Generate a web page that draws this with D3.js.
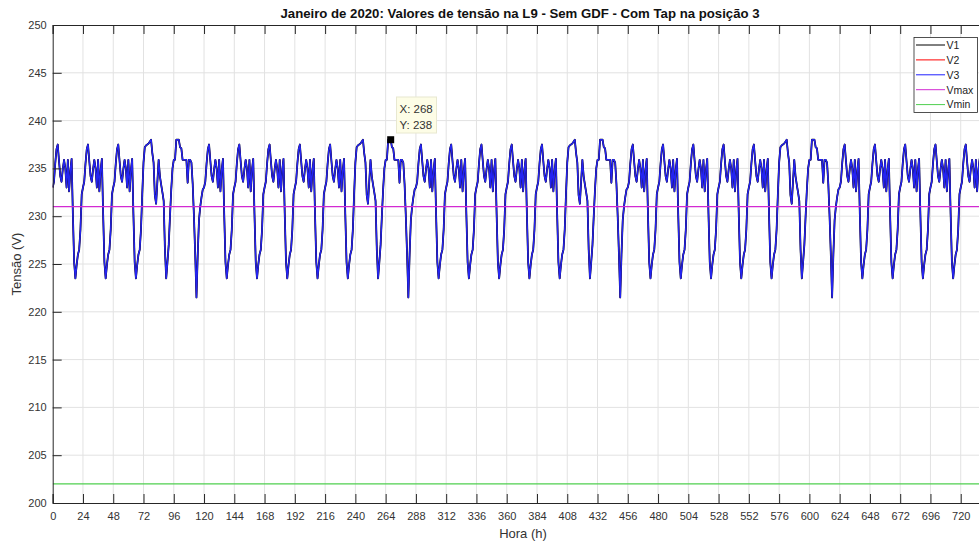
<!DOCTYPE html>
<html>
<head>
<meta charset="utf-8">
<script src="https://cdn.jsdelivr.net/npm/d3@7"></script>
<style>
  html, body { margin: 0; padding: 0; background: #fff; }
  svg { display: block; font-family: "Liberation Sans", Arial, Helvetica, sans-serif; }
</style>
</head>
<body>
<div id="chart"></div>
<script>
// ---------------- DATA ----------------
const titleText = "Janeiro de 2020: Valores de tensão na L9 - Sem GDF - Com Tap na posição 3";
const xLabel = "Hora (h)";
const yLabel = "Tensão (V)";
const xTicks = [0,24,48,72,96,120,144,168,192,216,240,264,288,312,336,360,384,408,432,456,480,504,528,552,576,600,624,648,672,696,720];
const yTicks = [200,205,210,215,220,225,230,235,240,245,250];
const seriesNames = ["V1","V2","V3","Vmax","Vmin"];

// hourly voltage profiles (hour 0..23)
const weekdayProfile  = [233.0,233.6,235.5,237.0,237.5,235.8,234.2,233.6,234.9,235.9,235.0,233.0,235.9,232.6,234.8,236.0,230.2,225.2,223.5,224.9,226.0,226.5,228.6,232.3];
const saturdayProfile = [235.6,237.2,237.4,237.5,237.6,237.8,238.0,236.6,235.6,232.2,231.3,233.6,235.9,234.2,233.3,232.5,231.6,226.5,223.5,225.2,227.0,230.0,232.8,235.0];
const sundayProfile   = [235.9,235.9,238.0,238.0,238.0,237.2,237.1,235.9,235.9,235.9,235.9,233.5,235.9,235.9,235.6,233.4,230.0,226.0,221.5,226.0,229.6,231.0,232.0,232.8];
// day types for January 2020 (W = weekday, S = Saturday, D = Sunday)
const dayTypes = ["W","W","W","S","D","W","W","W","W","W","S","D","W","W","W","W","W","S","D","W","W","W","W","W","S","D","W","W","W","W","W"];
const vmaxValue = [231];
const vminValue = [202];
const datatip = {x: 268, y: 238};

// ---------------- BUILD ----------------
const profiles = {W: weekdayProfile, S: saturdayProfile, D: sundayProfile};
const phaseData = [];
dayTypes.forEach((t, d) => profiles[t].forEach((v, h) => phaseData.push({x: d * 24 + h, y: v})));

const W = 979, H = 542;
const M = {left: 52.7, top: 25, right: 991, bottom: 503};
const svg = d3.select("#chart").append("svg").attr("width", W).attr("height", H);

const x = d3.scaleLinear().domain([0, 744]).range([M.left, M.right]);
const y = d3.scaleLinear().domain([200, 250]).range([M.bottom, M.top]);

const textCol = "#333333";

// grid
svg.append("g").selectAll("line").data(xTicks.slice(1)).join("line")
  .attr("x1", d => x(d)).attr("x2", d => x(d)).attr("y1", M.top).attr("y2", M.bottom)
  .attr("stroke", "#e2e2e2").attr("stroke-width", 1);
svg.append("g").selectAll("line").data(yTicks.slice(1, -1)).join("line")
  .attr("x1", M.left).attr("x2", M.right).attr("y1", d => y(d)).attr("y2", d => y(d))
  .attr("stroke", "#e2e2e2").attr("stroke-width", 1);

// clip
svg.append("clipPath").attr("id", "clip").append("rect")
  .attr("x", M.left).attr("y", M.top).attr("width", M.right - M.left).attr("height", M.bottom - M.top);
const plot = svg.append("g").attr("clip-path", "url(#clip)");

const line = d3.line().x(d => x(d.x)).y(d => y(d.y));
// V2 (red) and V1 (black) lie beneath V3 (blue) in the picture
plot.append("path").datum(phaseData).attr("d", line).attr("fill", "none").attr("stroke", "#ff0000").attr("stroke-width", 1).attr("stroke-linejoin", "round");
plot.append("path").datum(phaseData).attr("d", line).attr("fill", "none").attr("stroke", "#000000").attr("stroke-width", 1.8).attr("stroke-linejoin", "round");
plot.append("path").datum(phaseData).attr("d", line).attr("fill", "none").attr("stroke", "#2424f0").attr("stroke-width", 1.5).attr("stroke-linejoin", "round");

plot.append("line").attr("x1", x(0)).attr("x2", x(744)).attr("y1", y(vmaxValue[0])).attr("y2", y(vmaxValue[0]))
  .attr("stroke", "#d22ad2").attr("stroke-width", 1.1);
plot.append("line").attr("x1", x(0)).attr("x2", x(744)).attr("y1", y(vminValue[0])).attr("y2", y(vminValue[0]))
  .attr("stroke", "#4fcf4f").attr("stroke-width", 1.1);

// axes (MATLAB style: ticks inside, box)
const tickLen = 9;
const xAxisB = d3.axisBottom(x).tickValues(xTicks).tickSize(-tickLen).tickPadding(9).tickFormat(d3.format("d"));
const xAxisT = d3.axisTop(x).tickValues(xTicks).tickSize(-tickLen).tickFormat("");
const yAxisL = d3.axisLeft(y).tickValues(yTicks).tickSize(-tickLen).tickPadding(6).tickFormat(d3.format("d"));

function styleAxis(g) {
  g.selectAll(".domain").attr("stroke", "#262626").attr("stroke-width", 1);
  g.selectAll(".tick line").attr("stroke", "#262626").attr("stroke-width", 1);
  g.selectAll(".tick text").attr("fill", textCol).attr("font-size", 11).attr("font-family", "Liberation Sans, Arial, sans-serif");
}
svg.append("g").attr("transform", `translate(0,${M.bottom})`).call(xAxisB).call(styleAxis);
svg.append("g").attr("transform", `translate(0,${M.top})`).call(xAxisT).call(styleAxis);
svg.append("g").attr("transform", `translate(${M.left},0)`).call(yAxisL).call(styleAxis);

// title & labels
svg.append("text").attr("x", 520).attr("y", 18).attr("text-anchor", "middle")
  .attr("font-size", 13.2).attr("font-weight", "bold").attr("fill", "#111").text(titleText);
svg.append("text").attr("x", 523).attr("y", 538).attr("text-anchor", "middle")
  .attr("font-size", 13).attr("fill", textCol).text(xLabel);
svg.append("text").attr("transform", `translate(21,${(M.top + M.bottom) / 2}) rotate(-90)`).attr("text-anchor", "middle")
  .attr("font-size", 13).attr("fill", textCol).text(yLabel);

// legend
const legColors = ["#000000", "#ff0000", "#2020ff", "#d22ad2", "#4fcf4f"];
const leg = svg.append("g");
leg.append("rect").attr("x", 914).attr("y", 37.5).attr("width", 63.5).attr("height", 75)
  .attr("fill", "#ffffff").attr("stroke", "#262626").attr("stroke-width", 0.8);
seriesNames.forEach((name, i) => {
  const yy = 45 + i * 14.9;
  leg.append("line").attr("x1", 916).attr("x2", 945).attr("y1", yy).attr("y2", yy)
    .attr("stroke", legColors[i]).attr("stroke-width", 1);
  leg.append("text").attr("x", 946.5).attr("y", yy + 3.8).attr("font-size", 10.5).attr("fill", "#222").text(name);
});

// data tip
const tipX = x(datatip.x), tipY = y(datatip.y);
svg.append("rect").attr("x", tipX - 3.5).attr("y", tipY - 3.5).attr("width", 7).attr("height", 7).attr("fill", "#000");
const tip = svg.append("g");
tip.append("rect").attr("x", 396.5).attr("y", 97).attr("width", 40).attr("height", 36)
  .attr("fill", "#fdfde6").attr("stroke", "#e8e8d0").attr("stroke-width", 1);
tip.append("text").attr("x", 399.5).attr("y", 113).attr("font-size", 11.5).attr("fill", "#333").text("X: " + datatip.x);
tip.append("text").attr("x", 399.5).attr("y", 128.5).attr("font-size", 11.5).attr("fill", "#333").text("Y: " + datatip.y);
</script>
</body>
</html>
